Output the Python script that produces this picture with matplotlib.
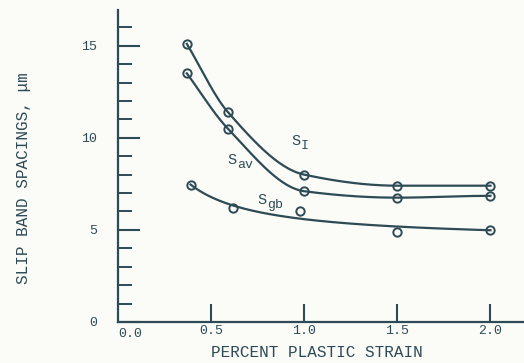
import numpy as np
import matplotlib
matplotlib.use("Agg")
from matplotlib import pyplot as plt

# values
strain = [0.37, 0.59, 1.0, 1.5, 2.0]
s_i = [15.1, 11.4, 8.0, 7.4, 7.4]
s_av = [13.5, 10.5, 7.1, 6.75, 6.85]
strain_gb = [0.39, 0.62, 0.98, 1.5, 2.0]
s_gb = [7.45, 6.2, 6.0, 4.9, 5.0]

x_ticks = [0.5, 1.0, 1.5, 2.0]
x_tick_labels = ["0.5", "1.0", "1.5", "2.0"]
y_ticks = [0, 5, 10, 15]
y_tick_labels = ["0", "5", "10", "15"]

ink = "#2e4b55"
paper = "#fbfbf8"

plt.rcParams["font.family"] = ["Liberation Mono", "DejaVu Sans Mono"]


def pchip(x, y, n=200):
    # monotone cubic hermite curve through the points (no scipy here)
    x = np.asarray(x, float)
    y = np.asarray(y, float)
    h = np.diff(x)
    d = np.diff(y) / h
    m = np.zeros_like(y)
    for i in range(1, len(x) - 1):
        if d[i - 1] * d[i] > 0:
            w1 = 2 * h[i] + h[i - 1]
            w2 = h[i] + 2 * h[i - 1]
            m[i] = (w1 + w2) / (w1 / d[i - 1] + w2 / d[i])
    m[0] = d[0]
    m[-1] = d[-1] if d[-1] * d[-2] > 0 else 0.0
    xs = np.linspace(x[0], x[-1], n)
    idx = np.clip(np.searchsorted(x, xs) - 1, 0, len(h) - 1)
    t = (xs - x[idx]) / h[idx]
    h00 = 2 * t**3 - 3 * t**2 + 1
    h10 = t**3 - 2 * t**2 + t
    h01 = -2 * t**3 + 3 * t**2
    h11 = t**3 - t**2
    ys = (h00 * y[idx] + h10 * h[idx] * m[idx]
          + h01 * y[idx + 1] + h11 * h[idx] * m[idx + 1])
    return xs, ys


def hyperbola_fit(x, y, n=200):
    # trend line y = a + b/x, least squares
    x = np.asarray(x, float)
    b, a = np.polyfit(1 / x, y, 1)
    xs = np.linspace(x[0], x[-1], n)
    return xs, a + b / xs


def curve_label(ax, x, y, sub):
    ax.text(x, y, "S", color=ink, fontsize=11)
    ax.annotate(sub, (x, y), xytext=(7, -3), textcoords="offset points",
                color=ink, fontsize=9.5)


fig = plt.figure(figsize=(5.24, 3.63), dpi=100, facecolor=paper)
ax = fig.add_axes([0.225, 0.113, 0.775, 0.86], facecolor=paper)

for xv, yv, curve in [(strain, s_i, pchip), (strain, s_av, pchip),
                      (strain_gb, s_gb, hyperbola_fit)]:
    xs, ys = curve(xv, yv)
    ax.plot(xs, ys, color=ink, lw=1.6)
    ax.plot(xv, yv, "o", ms=6, mfc="none", mec=ink, mew=1.4)

curve_label(ax, 0.93, 9.6, "I")
curve_label(ax, 0.59, 8.6, "av")
curve_label(ax, 0.75, 6.4, "gb")

ax.set_xlim(0, 2.18)
ax.set_ylim(0, 16.95)

for side in ["top", "right"]:
    ax.spines[side].set_visible(False)
for side in ["left", "bottom"]:
    ax.spines[side].set_color(ink)
    ax.spines[side].set_linewidth(1.6)

ax.set_xticks(x_ticks)
ax.set_xticklabels(x_tick_labels)
ax.set_yticks(y_ticks)
ax.set_yticklabels(y_tick_labels)
ax.set_yticks(np.arange(1, 17), minor=True)
ax.tick_params(axis="x", direction="in", length=13, width=1.5, color=ink,
               labelcolor=ink, labelsize=9.5, pad=2)
ax.tick_params(axis="y", which="major", direction="in", length=16, width=1.5,
               color=ink, labelcolor=ink, labelsize=9.5, pad=15)
ax.tick_params(axis="y", which="minor", direction="in", length=10, width=1.4,
               color=ink)
ax.text(0.0, -0.3, "0.0", color=ink, fontsize=9.5, ha="left", va="top")

ax.set_xlabel("PERCENT PLASTIC STRAIN", color=ink, fontsize=11.5)
ax.set_ylabel("SLIP BAND SPACINGS, \u03bcm", color=ink, fontsize=11.5)
ax.xaxis.set_label_coords(0.49, -0.075)
ax.yaxis.set_label_coords(-0.215, 0.46)

fig.savefig("out.png", dpi=100, facecolor=paper)
